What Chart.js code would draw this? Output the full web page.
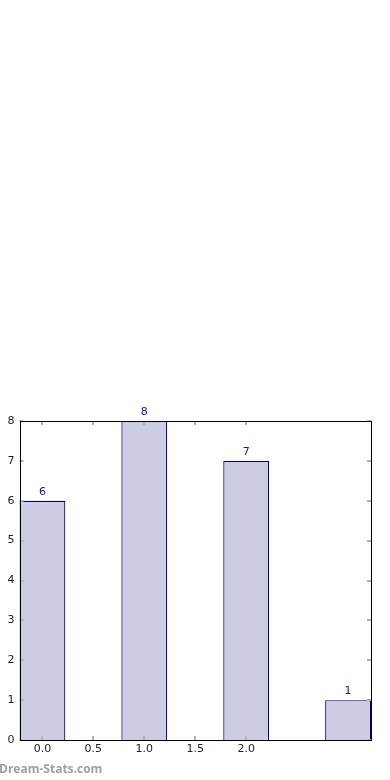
<!DOCTYPE html>
<html>
<head>
<meta charset="utf-8">
<script src="https://cdn.jsdelivr.net/npm/chart.js@4/dist/chart.umd.min.js"></script>
<style>
    html, body { margin: 0; padding: 0; background: #fff; }
    .wrap { position: relative; width: 390px; height: 780px; }
    .mark {
        position: absolute; left: -1px; top: 760px;
        font: bold 12px "Open Sans", sans-serif; color: #a0a0a0;
    }
</style>
</head>
<body>
<div class="wrap">
    <canvas id="chart" width="390" height="780"></canvas>
    <div class="mark">Dream-Stats.com</div>
</div>
<script>
// values
const positions = [0, 1, 2, 3];
const counts = [6, 8, 7, 1];
const xTicks = [0, 0.5, 1, 1.5, 2];
const yTicks = [0, 1, 2, 3, 4, 5, 6, 7, 8];

const tickFont = { family: 'DejaVu Sans', size: 11 };

// inward tick marks, frame and value labels
const framePlugin = {
    id: 'frame',
    afterDatasetsDraw(chart) {
        const ctx = chart.ctx;
        const a = chart.chartArea;
        const xs = chart.scales.x, ys = chart.scales.y;
        ctx.save();
        ctx.strokeStyle = '#b0b0b0';
        ctx.lineWidth = 2;
        xTicks.forEach(v => {
            const px = Math.round(xs.getPixelForValue(v));
            ctx.beginPath();
            ctx.moveTo(px, a.bottom); ctx.lineTo(px, a.bottom - 4);
            ctx.moveTo(px, a.top); ctx.lineTo(px, a.top + 4);
            ctx.stroke();
        });
        yTicks.forEach(v => {
            const py = Math.round(ys.getPixelForValue(v));
            ctx.beginPath();
            ctx.moveTo(a.left, py); ctx.lineTo(a.left + 4, py);
            ctx.moveTo(a.right, py); ctx.lineTo(a.right - 4, py);
            ctx.stroke();
        });
        ctx.strokeStyle = '#000';
        ctx.lineWidth = 1;
        ctx.strokeRect(Math.round(a.left) + 0.5, Math.round(a.top) + 0.5,
            Math.round(a.right - a.left) - 1, Math.round(a.bottom - a.top));

        ctx.fillStyle = '#14149c';
        ctx.font = '11px "DejaVu Sans"';
        ctx.textAlign = 'center';
        ctx.textBaseline = 'bottom';
        chart.getDatasetMeta(0).data.forEach((bar, i) => {
            ctx.fillText(String(counts[i]), bar.x, bar.y - 3);
        });
        ctx.restore();
    }
};

new Chart(document.getElementById('chart'), {
    type: 'bar',
    data: {
        datasets: [{
            data: positions.map((p, i) => ({ x: p, y: counts[i] })),
            backgroundColor: 'rgb(204,204,228)',
            borderColor: '#000080',
            borderWidth: 1.2,
            borderSkipped: 'bottom',
            // ruler uses the 0.5 tick spacing, so 0.9 of it = 0.45 units
            barPercentage: 0.9,
            categoryPercentage: 1
        }]
    },
    options: {
        responsive: false,
        animation: false,
        layout: { padding: { top: 421, right: 19, bottom: 20, left: 0 } },
        plugins: { legend: { display: false }, tooltip: { enabled: false } },
        scales: {
            x: {
                type: 'linear',
                offset: false,
                min: -0.225,
                max: 3.225,
                grid: { display: false, drawTicks: false },
                border: { display: false },
                afterBuildTicks: s => { s.ticks = xTicks.map(v => ({ value: v })); },
                afterFit: s => { s.height = 20; },
                ticks: {
                    font: tickFont, color: '#222', padding: 3, maxRotation: 0,
                    callback: v => Number(v).toFixed(1)
                }
            },
            y: {
                min: 0,
                max: 8,
                grid: { display: false, drawTicks: false },
                border: { display: false },
                afterBuildTicks: s => { s.ticks = yTicks.map(v => ({ value: v })); },
                afterFit: s => { s.width = 19.5; },
                ticks: { font: tickFont, color: '#222', padding: 5 }
            }
        }
    },
    plugins: [framePlugin]
});
</script>
</body>
</html>
